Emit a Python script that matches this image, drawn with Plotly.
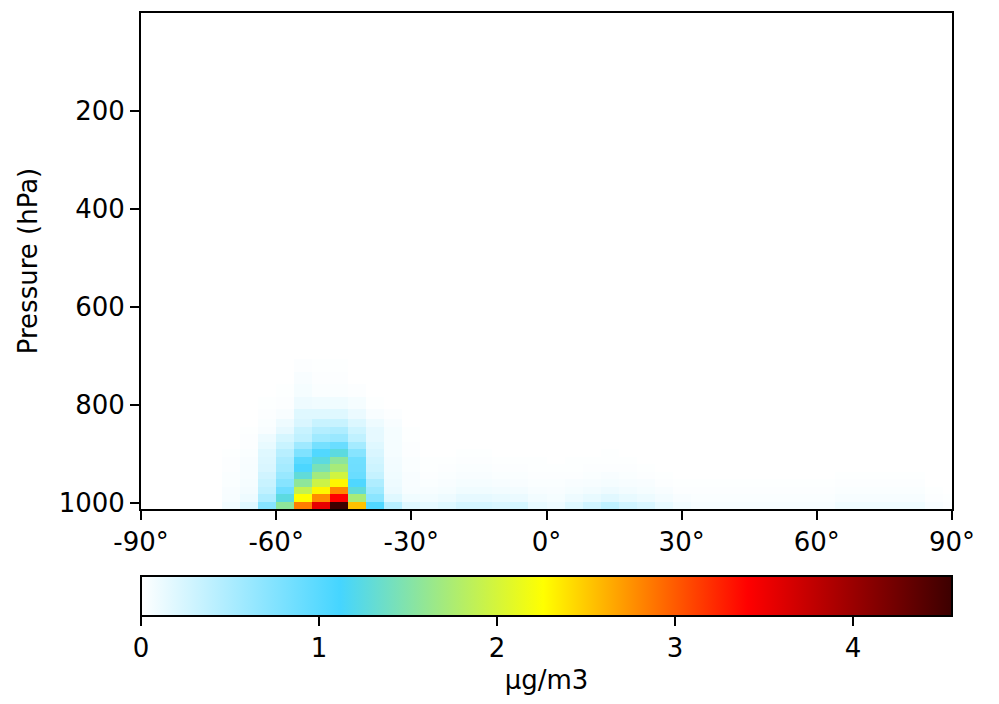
import plotly.graph_objects as go
import numpy as np

# ---------------- grid (GEOS-Chem 4x5, 47 levels) ----------------
lat_edges = [-90, -88, -84, -80, -76, -72, -68, -64, -60, -56, -52, -48, -44, -40,
             -36, -32, -28, -24, -20, -16, -12, -8, -4, 0, 4, 8, 12, 16, 20, 24,
             28, 32, 36, 40, 44, 48, 52, 56, 60, 64, 68, 72, 76, 80, 84, 88, 90]

pressure_edges = [1013.250, 998.051, 982.765, 967.484, 952.191, 936.905, 921.617,
                  906.322, 891.031, 875.750, 860.463, 845.176, 829.886, 809.507,
                  784.040, 758.577, 733.111, 707.653, 682.190, 644.004, 605.822,
                  567.646, 529.473, 491.300, 453.136, 414.978, 376.826, 338.688,
                  300.561, 262.446, 224.352, 186.294, 150.394, 117.555, 88.4556,
                  63.6036, 43.9047, 29.5293, 19.5183, 9.91130, 4.93650, 2.61240,
                  1.22700, 0.47700, 0.18500, 0.06650, 0.02100, 0.01000]

# ---------------- concentration (ug/m3), level 1 = surface ----------------
# columns: 46 latitude bands from south to north
lev01 = [0, 0, 0, 0, 0, 0.08, 0.19, 0.72, 1.57, 2.84, 3.55, 4.55, 2.54, 1.05, 0.43, 0.19,
         0.15, 0.19, 0.26, 0.26, 0.23, 0.25, 0.14, 0.10, 0.19, 0.28, 0.38, 0.28, 0.23, 0.14, 0.08,
         0.05, 0.05, 0.05, 0.05, 0.05, 0.05, 0.05, 0.05, 0.09, 0.09, 0.09, 0.09, 0.09, 0.04, 0.02]
lev02 = [0, 0, 0, 0, 0, 0.05, 0.10, 0.48, 1.26, 2.26, 2.78, 3.41, 1.72, 0.70, 0.19, 0.09,
         0.08, 0.10, 0.15, 0.15, 0.13, 0.12, 0.08, 0.06, 0.10, 0.14, 0.18, 0.14, 0.11, 0.07, 0.04,
         0.03, 0.03, 0.03, 0.03, 0.03, 0.03, 0.03, 0.03, 0.05, 0.05, 0.05, 0.05, 0.05, 0.02, 0.01]
lev03 = [0, 0, 0, 0, 0, 0.04, 0.07, 0.38, 0.87, 1.90, 2.30, 2.80, 1.29, 0.57, 0.12, 0.05,
         0.05, 0.06, 0.09, 0.09, 0.08, 0.07, 0.05, 0.04, 0.06, 0.08, 0.10, 0.08, 0.06, 0.04, 0.02,
         0.02, 0.02, 0.02, 0.02, 0.02, 0.02, 0.02, 0.02, 0.03, 0.03, 0.03, 0.03, 0.03, 0.01, 0]
lev04 = [0, 0, 0, 0, 0, 0.03, 0.06, 0.33, 0.72, 1.57, 1.94, 2.30, 1.06, 0.48, 0.10, 0.04,
         0.03, 0.04, 0.06, 0.06, 0.05, 0.04, 0.03, 0.03, 0.04, 0.05, 0.06, 0.05, 0.04, 0.02, 0.01,
         0.01, 0.01, 0.01, 0.01, 0.01, 0.01, 0.01, 0.01, 0.02, 0.02, 0.02, 0.02, 0.02, 0, 0]
lev05 = [0, 0, 0, 0, 0, 0.03, 0.05, 0.28, 0.62, 1.29, 1.69, 1.97, 0.90, 0.35, 0.09, 0.04,
         0.02, 0.03, 0.04, 0.04, 0.03, 0.03, 0.02, 0.02, 0.02, 0.03, 0.04, 0.03, 0.02, 0.01, 0,
         0, 0, 0, 0, 0, 0, 0, 0, 0.01, 0.01, 0.01, 0.01, 0.01, 0, 0]
lev06 = [0, 0, 0, 0, 0, 0.02, 0.05, 0.23, 0.54, 1.08, 1.44, 1.72, 0.87, 0.30, 0.08, 0.03,
         0.01, 0.02, 0.03, 0.03, 0.02, 0.02, 0.01, 0.01, 0.01, 0.02, 0.02, 0.02, 0.01, 0, 0,
         0, 0, 0, 0, 0, 0, 0, 0, 0, 0, 0, 0, 0, 0, 0]
lev07 = [0, 0, 0, 0, 0, 0.02, 0.04, 0.21, 0.50, 0.99, 1.26, 1.56, 0.86, 0.27, 0.07, 0.03,
         0.01, 0.01, 0.02, 0.02, 0.01, 0.01, 0.01, 0, 0.01, 0.01, 0.01, 0.01, 0, 0, 0,
         0, 0, 0, 0, 0, 0, 0, 0, 0, 0, 0, 0, 0, 0, 0]
lev08 = [0, 0, 0, 0, 0, 0.01, 0.03, 0.19, 0.43, 0.77, 1.05, 1.26, 0.72, 0.23, 0.06, 0.02,
         0, 0, 0.01, 0.01, 0, 0, 0, 0, 0, 0, 0.01, 0, 0, 0, 0,
         0, 0, 0, 0, 0, 0, 0, 0, 0, 0, 0, 0, 0, 0, 0]
lev09 = [0, 0, 0, 0, 0, 0, 0.02, 0.14, 0.33, 0.58, 0.83, 0.90, 0.54, 0.19, 0.06, 0.02,
         0, 0, 0, 0, 0, 0, 0, 0, 0, 0, 0, 0, 0, 0, 0,
         0, 0, 0, 0, 0, 0, 0, 0, 0, 0, 0, 0, 0, 0, 0]
lev10 = [0, 0, 0, 0, 0, 0, 0.02, 0.10, 0.25, 0.38, 0.57, 0.61, 0.38, 0.15, 0.06, 0.01,
         0, 0, 0, 0, 0, 0, 0, 0, 0, 0, 0, 0, 0, 0, 0,
         0, 0, 0, 0, 0, 0, 0, 0, 0, 0, 0, 0, 0, 0, 0]
lev11 = [0, 0, 0, 0, 0, 0, 0.01, 0.04, 0.15, 0.33, 0.45, 0.48, 0.30, 0.15, 0.06, 0.01,
         0, 0, 0, 0, 0, 0, 0, 0, 0, 0, 0, 0, 0, 0, 0,
         0, 0, 0, 0, 0, 0, 0, 0, 0, 0, 0, 0, 0, 0, 0]
lev12 = [0, 0, 0, 0, 0, 0, 0, 0.03, 0.10, 0.23, 0.33, 0.33, 0.21, 0.10, 0.04, 0,
         0, 0, 0, 0, 0, 0, 0, 0, 0, 0, 0, 0, 0, 0, 0,
         0, 0, 0, 0, 0, 0, 0, 0, 0, 0, 0, 0, 0, 0, 0]
lev13 = [0, 0, 0, 0, 0, 0, 0, 0.02, 0.04, 0.19, 0.19, 0.19, 0.12, 0.04, 0.02, 0,
         0, 0, 0, 0, 0, 0, 0, 0, 0, 0, 0, 0, 0, 0, 0,
         0, 0, 0, 0, 0, 0, 0, 0, 0, 0, 0, 0, 0, 0, 0]
lev14 = [0, 0, 0, 0, 0, 0, 0, 0.01, 0.02, 0.10, 0.09, 0.09, 0.06, 0.01, 0, 0,
         0, 0, 0, 0, 0, 0, 0, 0, 0, 0, 0, 0, 0, 0, 0,
         0, 0, 0, 0, 0, 0, 0, 0, 0, 0, 0, 0, 0, 0, 0]
lev15 = [0, 0, 0, 0, 0, 0, 0, 0, 0.01, 0.06, 0.03, 0.03, 0.02, 0, 0, 0,
         0, 0, 0, 0, 0, 0, 0, 0, 0, 0, 0, 0, 0, 0, 0,
         0, 0, 0, 0, 0, 0, 0, 0, 0, 0, 0, 0, 0, 0, 0]
lev16 = [0, 0, 0, 0, 0, 0, 0, 0, 0, 0.04, 0.02, 0.02, 0, 0, 0, 0,
         0, 0, 0, 0, 0, 0, 0, 0, 0, 0, 0, 0, 0, 0, 0,
         0, 0, 0, 0, 0, 0, 0, 0, 0, 0, 0, 0, 0, 0, 0]
lev17 = [0, 0, 0, 0, 0, 0, 0, 0, 0, 0.02, 0.01, 0.01, 0, 0, 0, 0,
         0, 0, 0, 0, 0, 0, 0, 0, 0, 0, 0, 0, 0, 0, 0,
         0, 0, 0, 0, 0, 0, 0, 0, 0, 0, 0, 0, 0, 0, 0]

x_tickvals = [-90, -60, -30, 0, 30, 60, 90]
x_ticktext = ["-90°", "-60°", "-30°", "0°", "30°", "60°", "90°"]
y_tickvals = [200, 400, 600, 800, 1000]
cb_tickvals = [0, 1, 2, 3, 4]
cb_min, cb_max = 0.0, 4.556

# ---------------- assemble ----------------
n_lev = len(pressure_edges) - 1
n_lat = len(lat_edges) - 1
lower_levels = [lev01, lev02, lev03, lev04, lev05, lev06, lev07, lev08, lev09,
                lev10, lev11, lev12, lev13, lev14, lev15, lev16, lev17]
z = np.zeros((n_lev, n_lat))
for i, row in enumerate(lower_levels):
    z[i, :] = row

cscale = [
    [0.0, "rgb(255,255,255)"],
    [0.2458, "rgb(69,213,255)"],
    [0.496, "rgb(255,255,0)"],
    [0.748, "rgb(255,0,0)"],
    [1.0, "rgb(60,0,0)"],
]

FONT = "DejaVu Sans"
FS = 26

fig = go.Figure(go.Heatmap(
    x=lat_edges, y=pressure_edges, z=z,
    zmin=cb_min, zmax=cb_max, colorscale=cscale, zsmooth=False,
    colorbar=dict(
        orientation="h", x=0, xanchor="left", y=-0.1345, yanchor="top",
        len=1, lenmode="fraction", thickness=40, thicknessmode="pixels",
        xpad=0, ypad=0, outlinecolor="black", outlinewidth=2,
        ticks="outside", ticklen=9, tickwidth=2, tickcolor="black",
        tickvals=cb_tickvals, ticktext=[str(v) for v in cb_tickvals],
        tickfont=dict(family=FONT, size=FS, color="black"),
        title=dict(text="μg/m3", side="bottom", font=dict(family=FONT, size=FS, color="black")),
    ),
))

fig.update_layout(
    width=991, height=696,
    margin=dict(l=133, r=47, t=3, b=195),
    paper_bgcolor="white", plot_bgcolor="white",
    font=dict(family=FONT, size=FS, color="black"),
    xaxis=dict(range=[-90, 90], tickvals=x_tickvals, ticktext=x_ticktext,
               showline=True, mirror=True, linecolor="black", linewidth=2,
               ticks="outside", ticklen=9, tickwidth=2, tickcolor="black",
               tickfont=dict(family=FONT, size=FS, color="black"),
               showgrid=False, zeroline=False),
    yaxis=dict(range=[1013.25, 0.0], tickvals=y_tickvals,
               showline=True, mirror=True, linecolor="black", linewidth=2,
               ticks="outside", ticklen=9, tickwidth=2, tickcolor="black",
               tickfont=dict(family=FONT, size=FS, color="black"),
               showgrid=False, zeroline=False,
               title=dict(text="Pressure (hPa)", standoff=14,
                          font=dict(family=FONT, size=FS, color="black"))),
)

fig.write_html("out.html")
